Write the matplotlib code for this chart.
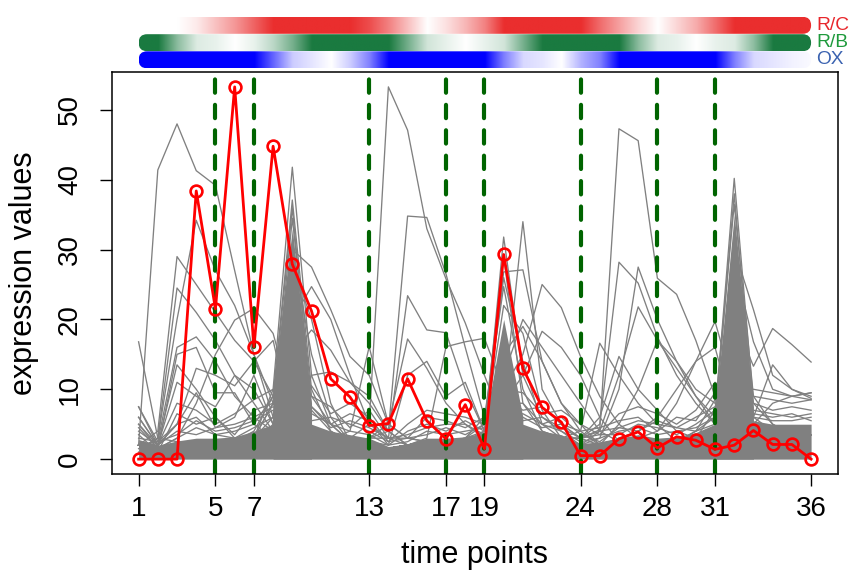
import numpy as np
import matplotlib
matplotlib.use("Agg")
import matplotlib.pyplot as plt
from matplotlib import font_manager
from matplotlib.patches import FancyBboxPatch

names = {f.name for f in font_manager.fontManager.ttflist}
FONT = "Liberation Sans Narrow" if "Liberation Sans Narrow" in names else "Liberation Sans"
plt.rcParams['font.family'] = [FONT, 'DejaVu Sans']

# ---------------- data ----------------
time_points = list(range(1, 37))
xtick_labels = [1, 5, 7, 13, 17, 19, 24, 28, 31, 36]
boundaries = [5, 7, 13, 17, 19, 24, 28, 31]
ytick_values = [0, 10, 20, 30, 40, 50]

red_profile = [0.0, 0.0, 0.0, 38.4, 21.5, 53.3, 16.1, 44.8, 27.9, 21.2,
               11.5, 8.9, 4.8, 5.1, 11.5, 5.5, 2.9, 7.8, 1.5, 29.3,
               13.0, 7.4, 5.3, 0.5, 0.5, 2.9, 3.9, 1.6, 3.2, 2.7,
               1.4, 2.0, 4.1, 2.1, 2.1, 0.0]

# colour-bar intensities per time point (0 = white, 1 = full colour)
rc_level = [0, 0, 0, 0.1, 0.3, 0.5, 0.75, 1, 1, 1, 1, 1, 0.85, 0.6, 0.3, 0,
            0.15, 0.35, 0.6, 1, 1, 1, 1, 1, 0.7, 0.45, 0.2, 0, 0.2, 0.4,
            0.7, 1, 1, 1, 1, 1]
rb_level = [1, 1, 0.5, 0.15, 0.1, 0, 0.1, 0.3, 0.6, 1, 1, 1, 1, 1, 0.6, 0.2,
            0.1, 0, 0.1, 0.2, 0.6, 1, 1, 1, 1, 1, 0.5, 0.15, 0.1, 0, 0.1,
            0.15, 0.5, 1, 1, 1]
ox_level = [1, 1, 1, 1, 1, 1, 1, 0.6, 0.2, 0.1, 0, 0.2, 0.5, 1, 1, 1, 1, 1,
            1, 0.5, 0.15, 0.1, 0, 0.3, 0.5, 1, 1, 1, 1, 1, 1, 0.5, 0.15,
            0.1, 0.05, 0.02]
bar_names = ["R/C", "R/B", "OX"]

# dense low band of gray profiles (upper edge)
band_top = [2.8, 2.0, 2.6, 3.0, 3.0, 3.2, 4.0, 5.0, 5.0, 5.0, 4.0, 3.5, 3.0,
            1.8, 2.2, 3.0, 3.0, 3.2, 3.8, 5.0, 5.0, 4.0, 3.5, 2.2, 2.5, 3.0,
            3.5, 3.0, 3.2, 3.8, 5.0, 5.0, 5.5, 5.0, 5.0, 5.0]
quiet_profile = [2.0, 1.5, 2.0, 2.5, 2.5, 2.5, 3.0, 3.5, 3.0, 3.5, 3.0, 2.5,
                 2.5, 1.5, 2.0, 2.5, 2.5, 2.5, 3.0, 3.5, 3.5, 3.0, 3.0, 2.0,
                 2.0, 2.5, 3.0, 2.5, 2.5, 3.0, 3.5, 4.0, 4.0, 3.5, 3.5, 3.5]

low_lines = [
    [4.5, 1.5, 3.0, 4.5, 3.5, 3.0, 4.5, 6.0, 5.0, 6.5, 5.0, 4.0, 3.5, 2.0, 2.5, 4.0, 3.5, 4.0, 4.5, 6.0, 6.5, 5.0, 4.0, 2.5, 3.0, 4.0, 4.5, 3.5, 4.0, 4.5, 6.0, 6.5, 6.0, 5.5, 5.5, 6.0],
    [6.0, 2.0, 4.0, 3.5, 4.5, 5.0, 6.0, 7.5, 6.0, 5.5, 6.0, 5.0, 4.0, 2.5, 3.0, 3.5, 4.5, 3.5, 5.0, 7.0, 5.5, 6.0, 4.5, 3.0, 3.5, 3.5, 5.0, 4.5, 3.5, 5.0, 7.0, 6.0, 7.0, 6.5, 6.0, 6.5],
    [7.5, 2.5, 5.0, 6.0, 3.5, 4.0, 5.0, 9.0, 7.0, 7.5, 5.0, 6.5, 5.5, 2.0, 4.0, 5.0, 4.0, 5.5, 4.0, 8.0, 8.0, 5.0, 6.0, 3.5, 2.5, 4.5, 4.0, 5.5, 4.5, 4.0, 8.5, 7.5, 8.0, 7.0, 7.5, 7.0],
    [3.5, 1.0, 6.5, 5.0, 6.0, 3.5, 7.0, 8.0, 6.5, 9.0, 7.5, 4.5, 7.0, 3.0, 3.0, 6.0, 5.5, 4.5, 6.0, 9.0, 7.0, 7.5, 5.0, 4.0, 4.5, 5.5, 6.0, 4.0, 6.0, 5.5, 9.5, 8.0, 9.0, 8.5, 8.0, 8.5],
    [5.0, 2.0, 8.0, 7.0, 5.0, 6.5, 8.5, 10.0, 8.0, 10.5, 6.5, 8.0, 6.0, 2.5, 5.0, 7.0, 6.5, 6.0, 5.0, 10.0, 9.5, 6.5, 7.0, 5.0, 3.5, 6.5, 7.5, 6.5, 5.0, 7.0, 11.0, 9.0, 10.0, 9.5, 9.0, 9.5],
    [3.0, 2.5, 3.5, 5.5, 4.0, 4.5, 5.5, 7.0, 5.5, 7.5, 4.5, 5.5, 4.5, 3.0, 3.5, 4.5, 5.0, 5.0, 3.5, 7.5, 6.0, 4.5, 5.0, 3.0, 4.0, 4.5, 5.5, 5.0, 4.5, 6.0, 7.5, 7.0, 6.5, 6.0, 6.5, 5.5],
]

# sparse individual profiles: (first time point, values from there on)
sparse_segments = [
    (1, [2.0, 41.4, 48.0, 41.3, 39.2, 27.0, 15.0, 6.0, 3.0]),
    (1, [1.0, 3.0, 20.0, 34.2, 27.0, 22.0, 15.0, 8.0, 3.0]),
    (1, [2.0, 4.0, 29.0, 25.0, 21.0, 17.0, 14.0, 9.0, 4.0]),
    (1, [1.5, 3.0, 24.5, 21.0, 17.0, 12.0, 8.0, 4.0]),
    (1, [16.8, 3.0, 2.5, 2.0]),
    (1, [7.5, 2.0, 13.5, 10.0, 6.0, 3.0]),
    (1, [2.0, 2.5, 16.0, 17.5, 14.0, 9.0, 6.0, 4.0]),
    (1, [5.0, 1.5, 15.0, 16.0, 9.5, 9.5, 5.0, 3.0]),
    (3, [3.0, 8.0, 15.0, 19.9, 21.6, 18.0, 8.0]),
    (1, [6.0, 2.0, 11.0, 9.0, 7.5, 12.0, 10.0, 5.0]),
    (2, [2.0, 5.0, 13.0, 12.0, 10.5, 14.0, 17.0, 5.0]),
    (1, [4.0, 2.0, 5.0, 9.5, 4.5, 6.0, 12.0, 5.0]),
    (8, [4.0, 30.0, 27.5, 21.4, 14.7, 12.0, 5.0, 3.0]),
    (8, [3.0, 20.0, 24.7, 20.0, 12.0, 5.0, 3.0]),
    (8, [2.5, 15.0, 18.5, 15.6, 11.0, 8.0, 4.0]),
    (9, [3.0, 12.0, 12.5, 11.0, 9.0, 4.0]),
    (12, [3.0, 5.0, 53.3, 47.1, 33.0, 25.8, 19.5, 12.0, 5.0]),
    (13, [3.0, 4.0, 34.8, 34.6, 26.5, 16.0, 6.0, 3.0]),
    (13, [3.0, 3.0, 23.4, 18.5, 18.1, 10.0, 4.0]),
    (13, [3.0, 5.0, 17.2, 13.0, 8.0, 5.0, 3.0]),
    (12, [4.0, 16.1, 5.0, 3.0]),
    (16, [3.0, 16.1, 16.8, 17.3, 10.0, 4.0]),
    (14, [2.0, 12.0, 14.0, 9.0, 11.0, 4.0]),
    (19, [3.0, 31.8, 12.0, 6.0, 4.0]),
    (19, [3.0, 8.0, 34.0, 10.0, 5.0, 3.0]),
    (19, [4.0, 26.8, 27.1, 14.0, 8.0, 4.0]),
    (20, [10.0, 15.0, 25.0, 21.7, 14.7, 9.0, 5.0]),
    (20, [8.0, 12.0, 18.3, 16.0, 12.0, 6.0]),
    (20, [12.0, 20.0, 16.0, 12.0, 8.0, 4.0]),
    (20, [15.0, 19.0, 14.0, 8.0, 5.0]),
    (24, [3.0, 4.2, 47.3, 45.6, 25.9, 23.6, 17.0, 9.0, 5.0]),
    (24, [3.0, 5.0, 28.2, 25.2, 17.5, 12.0, 8.0, 5.0]),
    (25, [3.0, 10.0, 27.5, 20.0, 14.0, 9.0, 5.0]),
    (25, [4.0, 12.0, 21.8, 17.0, 13.0, 9.0, 6.0]),
    (24, [4.0, 16.6, 12.0, 8.0, 5.0]),
    (24, [3.0, 6.0, 14.7, 10.0, 7.0, 4.0]),
    (27, [3.0, 4.0, 8.0, 14.0, 19.7, 10.0, 4.0]),
    (26, [5.0, 10.0, 17.0, 14.0, 10.0, 8.0, 5.0]),
    (26, [3.0, 4.0, 6.0, 10.0, 14.0, 16.0, 6.0]),
    (32, [30.0, 21.4, 12.0, 10.0, 9.0]),
    (32, [28.0, 16.8, 10.0, 9.0, 8.5]),
    (32, [20.0, 13.3, 18.7, 16.4, 13.9]),
    (32, [10.0, 6.0, 13.5, 10.0, 8.7]),
    (33, [5.0, 8.0, 9.0, 9.5]),
]

# dense peak clusters: solid body (time points, upper edge) and protruding spikes
cluster_times = [[8, 9, 10], [19, 20, 21], [31, 32, 33]]
cluster_tops = [[10.0, 33.0, 8.0], [4.7, 20.0, 6.0], [6.6, 35.0, 7.5]]
spike_segments = [
    (7, [3.0, 10.0, 41.8, 12.0, 5.0]),
    (7, [4.0, 9.0, 37.1, 10.0, 4.0]),
    (7, [3.0, 8.0, 36.0, 7.0, 4.0]),
    (7, [3.0, 6.0, 34.5, 9.0, 5.0]),
    (7, [2.0, 5.0, 30.0, 15.0, 6.0]),
    (7, [3.0, 8.0, 28.0, 20.0, 8.0]),
    (18, [3.0, 5.0, 29.0, 8.0, 4.0]),
    (18, [3.0, 4.0, 26.0, 14.0, 5.0]),
    (18, [3.0, 6.0, 24.7, 10.0, 4.0]),
    (18, [2.0, 4.0, 22.0, 18.0, 7.0]),
    (30, [4.0, 6.0, 40.2, 8.0, 5.0]),
    (30, [4.0, 5.0, 38.0, 6.0, 4.0]),
    (30, [3.0, 7.0, 36.5, 9.0, 5.0]),
]

# ---------------- figure ----------------
W, H = 860, 572
fig = plt.figure(figsize=(W / 100, H / 100), dpi=100)
L_px, R_px, T_px, B_px = 111.7, 838.0, 72.0, 474.0
ax = fig.add_axes([L_px / W, 1 - B_px / H, (R_px - L_px) / W, (B_px - T_px) / H])
xlim = (-0.4, 37.4)
ax.set_xlim(*xlim)
ax.set_ylim(-2.13, 55.43)

GRAY = '#808080'


def full_profile(start, vals):
    p = list(quiet_profile)
    for i, v in enumerate(vals):
        p[start - 1 + i] = v
    return p


ax.fill_between(time_points, 0, band_top, color=GRAY, lw=0, zorder=1)
for ts, tops in zip(cluster_times, cluster_tops):
    ax.fill_between(ts, 0, tops, color=GRAY, lw=0, zorder=1)
for ln in low_lines:
    ax.plot(time_points, ln, color=GRAY, lw=0.95, zorder=1)
for start, vals in sparse_segments + spike_segments:
    ax.plot(time_points, full_profile(start, vals), color=GRAY, lw=0.95, zorder=1)

for b in boundaries:
    ax.axvline(b, color='#006400', lw=3.0, dashes=(3.2, 2.9),
               dash_capstyle='round', zorder=2)

ax.plot(time_points, red_profile, color='#FF0000', lw=2.0, marker='o',
        markersize=8.5, markerfacecolor='none', markeredgecolor='#FF0000',
        markeredgewidth=1.9, zorder=3)

ax.set_xticks(xtick_labels)
ax.set_xticklabels([str(v) for v in xtick_labels])
ax.set_yticks(ytick_values)
ax.set_yticklabels([str(v) for v in ytick_values], rotation=90, va='center')
ax.tick_params(axis='both', direction='out', length=8.6, width=1.0,
               labelsize=20, colors='black')
ax.tick_params(axis='x', pad=7)
ax.tick_params(axis='y', pad=12)
for s in ax.spines.values():
    s.set_linewidth(1.1)
    s.set_color('black')
ax.set_xlabel('time points', fontsize=22, labelpad=13)
ax.set_ylabel('expression values', fontsize=22, labelpad=13)

# ---------------- colour bars ----------------
bt_px, bb_px = 10.0, 72.0
bax = fig.add_axes([L_px / W, 1 - bb_px / H, (R_px - L_px) / W, (bb_px - bt_px) / H])
ppu = (R_px - L_px) / (xlim[1] - xlim[0])
bax.set_xlim(*xlim)
bax.set_ylim(0, (bb_px - bt_px) / ppu)
bax.axis('off')

bar_centers_px = [25.3, 42.7, 59.8]
bar_h_px = 17.0
bar_cols = [np.array([234, 46, 46]) / 255, np.array([26, 122, 64]) / 255,
            np.array([0, 0, 255]) / 255]
label_cols = ['#E8262B', '#1E9A3C', '#3A62B0']
levels = [rc_level, rb_level, ox_level]
tt = np.linspace(time_points[0], time_points[-1], 1200)
for lv, col, yc_px, name, lc in zip(levels, bar_cols, bar_centers_px, bar_names, label_cols):
    li = np.interp(tt, time_points, lv)
    img = (1 - li)[:, None] * np.ones(3) + li[:, None] * col
    yc = (bb_px - yc_px) / ppu
    h = bar_h_px / ppu
    im = bax.imshow(img[None, :, :], extent=[time_points[0], time_points[-1], yc - h / 2, yc + h / 2],
                    aspect='auto', interpolation='bilinear', zorder=1)
    clip = FancyBboxPatch((time_points[0], yc - h / 2), time_points[-1] - time_points[0], h,
                          boxstyle=f"round,pad=0,rounding_size={h / 2}",
                          transform=bax.transData, facecolor='none', edgecolor='none')
    bax.add_patch(clip)
    im.set_clip_path(clip)
    bax.text(time_points[-1] + 0.25, yc, name, color=lc, fontsize=13.8,
             ha='left', va='center', clip_on=False)

fig.savefig('out.png', dpi=100)
